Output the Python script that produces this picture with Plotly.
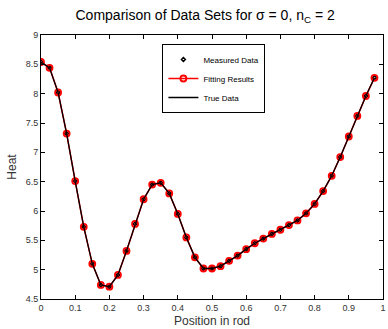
import plotly.graph_objects as go

x_pos = [0, 0.025, 0.05, 0.075, 0.1, 0.125, 0.15, 0.175, 0.2, 0.225,
         0.25, 0.275, 0.3, 0.325, 0.35, 0.375, 0.4, 0.425, 0.45, 0.475,
         0.5, 0.525, 0.55, 0.575, 0.6, 0.625, 0.65, 0.675, 0.7, 0.725,
         0.75, 0.775, 0.8, 0.825, 0.85, 0.875, 0.9, 0.925, 0.95, 0.975]
measured = [8.54, 8.44, 8.02, 7.32, 6.51, 5.73, 5.10, 4.74, 4.71, 4.91,
            5.32, 5.78, 6.20, 6.45, 6.48, 6.30, 5.95, 5.55, 5.21, 5.02,
            5.02, 5.06, 5.15, 5.24, 5.35, 5.45, 5.53, 5.61, 5.68, 5.76,
            5.84, 5.96, 6.12, 6.34, 6.60, 6.92, 7.27, 7.62, 7.96, 8.27]
fitted = list(measured)
true_data = list(measured)

x_ticks = [0, 0.1, 0.2, 0.3, 0.4, 0.5, 0.6, 0.7, 0.8, 0.9, 1]
x_tick_labels = ["0", "0.1", "0.2", "0.3", "0.4", "0.5", "0.6", "0.7", "0.8", "0.9", "1"]
y_ticks = [4.5, 5, 5.5, 6, 6.5, 7, 7.5, 8, 8.5, 9]
y_tick_labels = ["4.5", "5", "5.5", "6", "6.5", "7", "7.5", "8", "8.5", "9"]

fig = go.Figure()
fig.add_trace(go.Scatter(
    x=x_pos, y=measured, mode="markers", name="Measured Data",
    marker=dict(symbol="diamond-open", size=3, color="black", line=dict(width=1.5, color="black"))))
fig.add_trace(go.Scatter(
    x=x_pos, y=fitted, mode="lines+markers", name="Fitting Results",
    line=dict(color="red", width=1.5),
    marker=dict(symbol="circle-open", size=6, color="red", line=dict(width=1.8, color="red"))))
fig.add_trace(go.Scatter(
    x=x_pos, y=true_data, mode="lines", name="True Data",
    line=dict(color="black", width=1.3)))

axis_common = dict(
    showline=True, linecolor="black", linewidth=1, mirror="ticks",
    ticks="inside", ticklen=4, tickcolor="black", showgrid=False, zeroline=False,
    ticklabeloverflow="allow",
    tickfont=dict(family="Liberation Sans, Arial", size=9, color="#333333"))

fig.update_layout(
    width=388, height=329,
    margin=dict(l=41, r=2, t=35, b=30),
    paper_bgcolor="white", plot_bgcolor="white",
    title=dict(text="Comparison of Data Sets for σ = 0, n<sub>C</sub> = 2",
               xref="paper", x=0.48, xanchor="center", y=0.955, yanchor="middle",
               font=dict(family="Liberation Sans, Arial", size=14, color="black")),
    xaxis=dict(range=[0, 1], tickvals=x_ticks, ticktext=x_tick_labels,
               title=dict(text="Position in rod", standoff=4,
                          font=dict(family="Liberation Sans, Arial", size=12, color="#333333")),
               **axis_common),
    yaxis=dict(range=[4.5, 9], tickvals=y_ticks, ticktext=y_tick_labels,
               title=dict(text="Heat", standoff=6,
                          font=dict(family="Liberation Sans, Arial", size=12, color="#333333")),
               **axis_common),
    legend=dict(x=0.355, y=0.966, xanchor="left", yanchor="top",
                bgcolor="white", bordercolor="black", borderwidth=1,
                font=dict(family="Liberation Sans, Arial", size=8, color="black"),
                tracegroupgap=0, itemwidth=30),
    showlegend=True,
)

fig.write_html("out.html")
